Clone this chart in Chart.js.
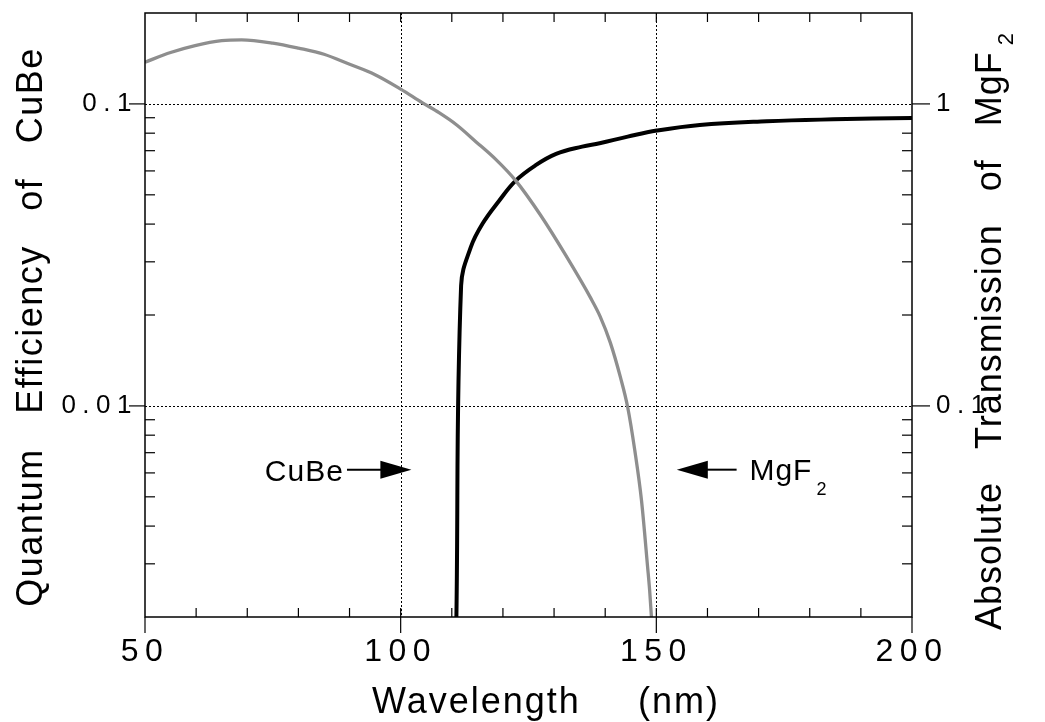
<!DOCTYPE html>
<html>
<head>
<meta charset="utf-8">
<script src="https://cdn.jsdelivr.net/npm/chart.js@4.4.1/dist/chart.umd.min.js"></script>
<style>
    html, body { margin: 0; padding: 0; background: #fff; }
    #wrap { width: 1045px; height: 722px; }
</style>
</head>
<body>
<div id="wrap"><canvas id="qeChart" width="1045" height="722"></canvas></div>
<script>
// CuBe photocathode quantum efficiency (left axis)
const cubeWavelength = [50, 55, 59.8, 65, 68.9, 75, 80, 85, 89.9, 95, 100, 104.2, 107.5, 110.9, 114.7, 118.6, 122.5, 127.4, 132.3, 137.2, 139, 141, 143, 144.4, 145.8, 147.1, 148.3, 148.7, 149, 149.2];
const cubeQE = [0.1374, 0.148, 0.156, 0.162, 0.163, 0.159, 0.153, 0.146, 0.1355, 0.125, 0.112, 0.101, 0.0935, 0.0853, 0.075, 0.0655, 0.0557, 0.0427, 0.0315, 0.0227, 0.0198, 0.0162, 0.0124, 0.0099, 0.0071, 0.00486, 0.00292, 0.00244, 0.00205, 0.0018];

// MgF2 window transmission (right axis)
const mgf2Wavelength = [110.9, 111.82, 113.7, 116, 119.3, 122.5, 126.3, 130.4, 135.5, 138.9, 144.4, 150.1, 158.5, 171.6, 184.6, 200];
const mgf2Transmission = [0.02, 0.25, 0.335, 0.401, 0.479, 0.557, 0.625, 0.683, 0.722, 0.741, 0.779, 0.816, 0.852, 0.876, 0.889, 0.899];

// axis ticks / labels
const xTickLabels = [50, 100, 150, 200];
const leftTickValues = [0.01, 0.1];
const leftTickLabels = ["0.01", "0.1"];
const rightTickValues = [0.1, 1];
const rightTickLabels = ["0.1", "1"];

const FONT = "'Liberation Sans', Arial, Helvetica, sans-serif";

function toPoints(xs, ys) {
    return xs.map((x, i) => ({ x: x, y: ys[i] }));
}

function labelFor(values, labels) {
    return v => {
        let i = values.findIndex(t => Math.abs(t - v) < t * 1e-6);
        return i >= 0 ? labels[i] : "";
    };
}

function line(ctx, x1, y1, x2, y2) {
    ctx.beginPath();
    ctx.moveTo(x1, y1);
    ctx.lineTo(x2, y2);
    ctx.stroke();
}

// 2..9 minor values inside a log axis range
function logMinors(min, max) {
    let out = [];
    for (let d = Math.floor(Math.log10(min)); d <= Math.ceil(Math.log10(max)); d++) {
        for (let m = 2; m <= 9; m++) {
            let v = m * Math.pow(10, d);
            if (v > min * 1.001 && v < max * 0.999) out.push(v);
        }
    }
    return out;
}

function arrow(ctx, fromX, toX, y) {
    let dir = Math.sign(toX - fromX);
    let headLen = 31, half = 9;
    ctx.lineWidth = 2;
    line(ctx, fromX, y, toX - dir * headLen + dir * 2, y);
    ctx.beginPath();
    ctx.moveTo(toX, y);
    ctx.lineTo(toX - dir * headLen, y - half);
    ctx.lineTo(toX - dir * headLen, y + half);
    ctx.closePath();
    ctx.fill();
}

// text with a subscript, drawn left to right from x
function subText(ctx, x, y, main, sub, size, subSize, subDrop, gap) {
    ctx.font = size + "px " + FONT;
    ctx.textAlign = "left";
    ctx.fillText(main, x, y);
    let w = ctx.measureText(main).width;
    ctx.font = subSize + "px " + FONT;
    ctx.fillText(sub, x + w + gap, y + subDrop);
}

// keep the plot box fixed, tick labels must not push it around
function fixBox(size, isX) {
    return s => {
        if (isX) s.height = size; else s.width = size;
        s.paddingTop = 0; s.paddingBottom = 0;
        s.paddingLeft = 0; s.paddingRight = 0;
    };
}

const axesDecor = {
    id: "axesDecor",
    beforeDraw(chart) {
        chart.ctx.letterSpacing = "6.5px";
    },
    beforeDatasetsDraw(chart) {
        const { ctx, chartArea: a, scales } = chart;
        ctx.letterSpacing = "0px";
        ctx.save();
        ctx.strokeStyle = "#000";
        ctx.lineWidth = 1;
        ctx.setLineDash([2, 2]);
        [100, 150].forEach(v => {
            let px = Math.round(scales.x.getPixelForValue(v)) + 0.5;
            line(ctx, px, a.top, px, a.bottom);
        });
        leftTickValues.forEach(v => {
            let py = Math.round(scales.y.getPixelForValue(v)) + 0.5;
            line(ctx, a.left, py, a.right, py);
        });
        ctx.restore();
    },
    afterDraw(chart) {
        const { ctx, chartArea: a, scales } = chart;
        const { x, y, y2 } = scales;
        ctx.save();
        ctx.strokeStyle = "#000";
        ctx.fillStyle = "#000";
        ctx.lineWidth = 1.5;
        ctx.strokeRect(a.left, a.top, a.right - a.left, a.bottom - a.top);

        // x ticks: minor inward top and bottom, major outward at bottom
        ctx.lineWidth = 1.2;
        for (let v = 60; v < 200; v += 10) {
            let px = x.getPixelForValue(v);
            line(ctx, px, a.bottom, px, a.bottom - 9);
            line(ctx, px, a.top, px, a.top + 9);
        }
        xTickLabels.forEach(v => {
            let px = x.getPixelForValue(v);
            line(ctx, px, a.bottom, px, a.bottom + 16);
        });

        // y ticks
        logMinors(y.min, y.max).forEach(v => {
            let py = y.getPixelForValue(v);
            line(ctx, a.left, py, a.left + 10, py);
        });
        logMinors(y2.min, y2.max).forEach(v => {
            let py = y2.getPixelForValue(v);
            line(ctx, a.right, py, a.right - 10, py);
        });
        leftTickValues.forEach(v => {
            let py = y.getPixelForValue(v);
            line(ctx, a.left - 16, py, a.left, py);
        });
        rightTickValues.forEach(v => {
            let py = y2.getPixelForValue(v);
            line(ctx, a.right, py, a.right + 18, py);
        });

        // arrows pointing at the cutoffs
        let ay = y.getPixelForValue(0.00615);
        arrow(ctx, x.getPixelForValue(89.5), x.getPixelForValue(102.1), ay);
        arrow(ctx, x.getPixelForValue(165.7), x.getPixelForValue(154.0), ay);

        ctx.textBaseline = "alphabetic";
        ctx.letterSpacing = "1px";
        ctx.font = "30px " + FONT;
        ctx.textAlign = "right";
        ctx.fillText("CuBe", x.getPixelForValue(88.9), ay + 11);
        subText(ctx, x.getPixelForValue(168.2), ay + 10, "MgF", "2", 30, 18, 15, 4);

        // axis titles
        ctx.letterSpacing = "2px";
        ctx.font = "36px " + FONT;
        ctx.textAlign = "left";
        ctx.fillText("Wavelength", 372, 713);
        ctx.fillText("(nm)", 638, 713);

        ctx.letterSpacing = "1.5px";
        ctx.save();
        ctx.translate(42, 327);
        ctx.rotate(-Math.PI / 2);
        ctx.textAlign = "center";
        ctx.font = "36px " + FONT;
        ctx.fillText("Quantum   Efficiency   of   CuBe", 0, 0);
        ctx.restore();

        ctx.letterSpacing = "1px";
        ctx.save();
        ctx.translate(1001, 630);
        ctx.rotate(-Math.PI / 2);
        subText(ctx, 0, 0, "Absolute   Transmission   of   MgF", "2", 36, 22, 12, 6);
        ctx.restore();

        ctx.restore();
    }
};

const ctx = document.getElementById("qeChart").getContext("2d");
new Chart(ctx, {
    type: "line",
    data: {
        datasets: [{
            label: "CuBe",
            data: toPoints(cubeWavelength, cubeQE),
            yAxisID: "y",
            borderColor: "#8e8e8e",
            borderWidth: 3.3,
            pointRadius: 0,
            cubicInterpolationMode: "monotone",
            clip: 0
        }, {
            label: "MgF2",
            data: toPoints(mgf2Wavelength, mgf2Transmission),
            yAxisID: "y2",
            borderColor: "#000",
            borderWidth: 4,
            borderJoinStyle: "round",
            pointRadius: 0,
            tension: 0.4,
            clip: 0
        }]
    },
    options: {
        responsive: false,
        animation: false,
        layout: { padding: { top: 13, left: 0, right: 0, bottom: 0 } },
        plugins: { legend: { display: false }, tooltip: { enabled: false } },
        scales: {
            x: {
                type: "linear", position: "bottom", min: 50, max: 200,
                afterFit: fixBox(105, true),
                grid: { display: false, drawTicks: false },
                border: { display: false },
                ticks: { stepSize: 50, padding: 16, color: "#000", maxRotation: 0, autoSkip: false,
                         font: { size: 32, family: FONT } }
            },
            y: {
                type: "logarithmic", position: "left", min: 0.002, max: 0.2,
                afterFit: fixBox(145, false),
                grid: { display: false, drawTicks: false },
                border: { display: false },
                ticks: { autoSkip: false, padding: 7, color: "#000", font: { size: 26, family: FONT },
                         callback: labelFor(leftTickValues, leftTickLabels) }
            },
            y2: {
                type: "logarithmic", position: "right", min: 0.02, max: 2,
                afterFit: fixBox(133, false),
                grid: { display: false, drawTicks: false },
                border: { display: false },
                ticks: { autoSkip: false, padding: 24, color: "#000", font: { size: 26, family: FONT },
                         callback: labelFor(rightTickValues, rightTickLabels) }
            }
        }
    },
    plugins: [axesDecor]
});
</script>
</body>
</html>
